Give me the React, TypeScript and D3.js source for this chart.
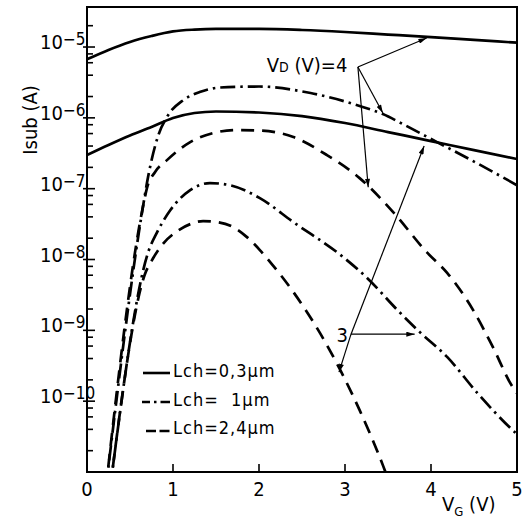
import React from 'react';
import * as d3 from 'd3';

// ---------- data ----------
const X_TICKS = [0, 1, 2, 3, 4, 5];
const Y_DECADES = [-5, -6, -7, -8, -9, -10];
const LEGEND_LABELS = ['Lch=0,3\u00b5m', 'Lch=  1\u00b5m', 'Lch=2,4\u00b5m'];

// Lch = 0.3 um, VD = 4 V (solid)
const VG_S4 = [0, 0.25, 0.5, 0.75, 1, 1.25, 1.5, 2, 2.5, 3, 3.5, 4, 4.5, 5];
const I_S4 = [6.7e-6, 9.1e-6, 1.18e-5, 1.43e-5, 1.66e-5, 1.76e-5, 1.8e-5, 1.8e-5, 1.74e-5, 1.63e-5, 1.5e-5, 1.38e-5, 1.26e-5, 1.15e-5];
// Lch = 0.3 um, VD = 3 V (solid)
const VG_S3 = [0, 0.25, 0.5, 0.75, 1, 1.25, 1.5, 2, 2.5, 3, 3.5, 4, 4.5, 5];
const I_S3 = [2.98e-7, 4.13e-7, 5.62e-7, 7.41e-7, 9.93e-7, 1.17e-6, 1.23e-6, 1.19e-6, 1.06e-6, 8.45e-7, 6.3e-7, 4.7e-7, 3.5e-7, 2.62e-7];
// Lch = 1 um, VD = 4 V (dash-dot)
const VG_DD4 = [0.22, 0.65, 0.71, 0.83, 0.93, 1.12, 1.31, 1.55, 2.0, 2.6, 3.17, 3.44, 3.67, 4.07, 4.49, 5.0];
const I_DD4 = [6e-12, 5.5e-8, 1.46e-7, 5.71e-7, 1.03e-6, 1.78e-6, 2.31e-6, 2.68e-6, 2.77e-6, 2.24e-6, 1.47e-6, 1.13e-6, 8.2e-7, 4.55e-7, 2.45e-7, 1.12e-7];
// Lch = 2.4 um, VD = 4 V (dashed)
const VG_D4 = [0.22, 0.65, 0.7, 0.79, 0.93, 1.2, 1.47, 1.74, 2.01, 2.4, 2.79, 3.17, 3.56, 3.95, 4.19, 4.49, 4.72, 4.95, 5.0];
const I_D4 = [6e-12, 5.5e-8, 1.05e-7, 1.71e-7, 2.53e-7, 4.55e-7, 6.1e-7, 6.73e-7, 6.62e-7, 5.36e-7, 2.98e-7, 1.41e-7, 4.67e-8, 1.27e-8, 6.43e-9, 1.93e-9, 5.79e-10, 1.58e-10, 1.3e-10];
// Lch = 1 um, VD = 3 V (dash-dot)
const VG_DD3 = [0.27, 0.72, 0.81, 0.97, 1.2, 1.43, 1.66, 2.01, 2.4, 2.98, 3.26, 3.61, 3.87, 4.19, 4.54, 4.95, 5.0];
const I_DD3 = [6e-12, 1.36e-8, 2.36e-8, 4.99e-8, 9.55e-8, 1.2e-7, 1.12e-7, 7.36e-8, 3.37e-8, 1.08e-8, 5.45e-9, 1.93e-9, 9.43e-10, 4.18e-10, 1.3e-10, 3.89e-11, 3.42e-11];
// Lch = 2.4 um, VD = 3 V (dashed)
const VG_D3 = [0.27, 0.67, 0.77, 0.88, 1.05, 1.2, 1.35, 1.52, 1.7, 1.86, 2.01, 2.13, 2.4, 2.71, 2.94, 3.17, 3.44, 3.48];
const I_D3 = [6e-12, 6.03e-9, 1.05e-8, 1.65e-8, 2.52e-8, 3.16e-8, 3.49e-8, 3.37e-8, 2.87e-8, 2.07e-8, 1.36e-8, 9.19e-9, 3.47e-9, 9.13e-10, 2.83e-10, 7.46e-11, 1.25e-11, 9.3e-12];

// annotations (data coordinates)
const VD4_ORIGIN = [3.15, 5.22e-6];
const VD4_TIPS = [[3.95, 1.34e-5], [3.44, 1.17e-6], [3.27, 1.05e-7]];
const VD4_LABEL_POS = [2.09, 4.44e-6];
const VD3_ORIGIN = [3.07, 8.83e-10];
const VD3_TIPS = [[3.81, 8.83e-10], [2.93, 2.57e-10], [3.92, 4.0e-7]];
const VD3_LABEL_POS = [3.035, 6.8e-10];

const DASHDOT = '15,5,2.5,5';
const DASHED = '13,8';

const W = 524, H = 524;
const L = 87, R = 517, T = 7, B = 472;
const FONT = '"DejaVu Sans Condensed", "DejaVu Sans", sans-serif';

export default function App() {
  const x = d3.scaleLinear().domain([0, 5]).range([L, R]);
  const y = d3.scaleLog().domain([1e-11, Math.pow(10, -4.435)]).range([B, T]);

  const line = d3.line<[number, number]>()
    .x(d => x(d[0]))
    .y(d => y(d[1]))
    .curve(d3.curveMonotoneX);

  const zip = (a: number[], b: number[]) => a.map((v, i) => [v, b[i]] as [number, number]);

  const series = [
    { d: zip(VG_S4, I_S4), dash: undefined },
    { d: zip(VG_S3, I_S3), dash: undefined },
    { d: zip(VG_DD4, I_DD4), dash: DASHDOT },
    { d: zip(VG_D4, I_D4), dash: DASHED },
    { d: zip(VG_DD3, I_DD3), dash: DASHDOT },
    { d: zip(VG_D3, I_D3), dash: DASHED },
  ];

  const minor: number[] = [];
  for (let e = -11; e <= -5; e++) {
    [2, 4, 6, 8].forEach(m => {
      const v = m * Math.pow(10, e);
      if (v < y.domain()[1]) minor.push(v);
    });
  }

  const arrow = (o: number[], t: number[], k: string) => (
    <line key={k} x1={x(o[0])} y1={y(o[1])} x2={x(t[0])} y2={y(t[1])}
      stroke="#000" strokeWidth={1.2} markerEnd="url(#ah)" />
  );

  return (
    <svg width={W} height={H} style={{ position: 'absolute', left: 0, top: 0, background: '#fff' }}
      fontFamily={FONT}>
      <defs>
        <clipPath id="plot">
          <rect x={L} y={T} width={R - L} height={B - T} />
        </clipPath>
        <marker id="ah" viewBox="0 0 10 6" refX={10} refY={3} markerWidth={9} markerHeight={5}
          orient="auto" markerUnits="userSpaceOnUse">
          <path d="M0,0 L10,3 L0,6 z" fill="#000" />
        </marker>
      </defs>
      <rect x={0} y={0} width={W} height={H} fill="#fff" />

      {/* curves */}
      <g clipPath="url(#plot)" fill="none" stroke="#000" strokeWidth={2.7}>
        {series.map((s, i) => (
          <path key={i} d={line(s.d) || ''} strokeDasharray={s.dash} />
        ))}
      </g>

      {/* frame */}
      <rect x={L} y={T} width={R - L} height={B - T} fill="none" stroke="#000" strokeWidth={2} />

      {/* y ticks */}
      {Y_DECADES.map(e => (
        <line key={'M' + e} x1={L - 4} x2={L + 8} y1={y(Math.pow(10, e))} y2={y(Math.pow(10, e))}
          stroke="#000" strokeWidth={1.6} />
      ))}
      {minor.map((v, i) => (
        <line key={'m' + i} x1={L} x2={L + 6} y1={y(v)} y2={y(v)} stroke="#000" strokeWidth={1.6} />
      ))}
      {Y_DECADES.map(e => (
        <text key={'yl' + e} x={40} y={y(Math.pow(10, e)) + 2} fontSize={20}>
          10<tspan fontSize={17} dy={-4}>{'\u2212' + (-e)}</tspan>
        </text>
      ))}

      {/* x ticks */}
      {X_TICKS.filter(t => t > 0 && t < 5).map(t => (
        <line key={'xt' + t} x1={x(t)} x2={x(t)} y1={B} y2={B - 8} stroke="#000" strokeWidth={1.6} />
      ))}
      {X_TICKS.map(t => (
        <text key={'xl' + t} x={x(t)} y={496} fontSize={20} textAnchor="middle">{t}</text>
      ))}

      {/* axis titles */}
      <text transform="translate(37,120) rotate(-90)" fontSize={20} textAnchor="middle">Isub (A)</text>
      <text x={442} y={511} fontSize={20}>
        V<tspan fontSize={13} dy={5}>G</tspan><tspan dy={-5}> (V)</tspan>
      </text>

      {/* annotations */}
      <text x={x(VD4_LABEL_POS[0])} y={y(VD4_LABEL_POS[1])} fontSize={20}>
        V<tspan fontSize={14}>D</tspan> (V)=4
      </text>
      {VD4_TIPS.map((t, i) => arrow(VD4_ORIGIN, t, 'a4' + i))}
      <text x={x(VD3_LABEL_POS[0])} y={y(VD3_LABEL_POS[1])} fontSize={20} textAnchor="end">3</text>
      {VD3_TIPS.map((t, i) => arrow(VD3_ORIGIN, t, 'a3' + i))}

      {/* legend */}
      <g stroke="#000" strokeWidth={2.6} fill="none">
        <line x1={143} x2={170} y1={373} y2={373} />
        <line x1={142} x2={170} y1={402} y2={402} strokeDasharray="8,4,2.5,4,10" />
        <line x1={146} x2={170} y1={431} y2={431} strokeDasharray="10,3.5" />
      </g>
      {LEGEND_LABELS.map((lab, i) => (
        <text key={lab} x={173} y={377 + i * 28.5} fontSize={18} letterSpacing={1}
          style={{ whiteSpace: 'pre' }}>{lab}</text>
      ))}
    </svg>
  );
}
